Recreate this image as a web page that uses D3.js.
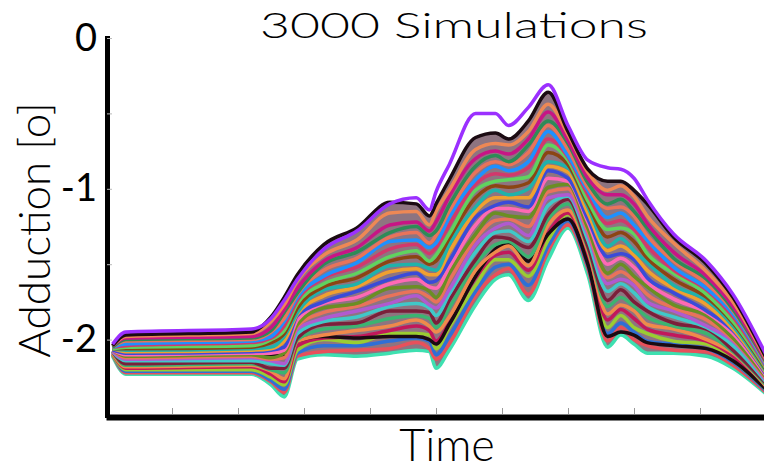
<!DOCTYPE html>
<html>
<head>
<meta charset="utf-8">
<script src="https://cdnjs.cloudflare.com/ajax/libs/d3/7.8.5/d3.min.js"></script>
<style>
  body { margin: 0; background: #fff; }
</style>
</head>
<body>
<div id="chart"></div>
<script>
// time in % of cycle
const times = [1, 3, 22, 25, 27, 29, 33, 38, 43, 47, 49, 50, 52, 56, 59, 61, 64, 67, 70, 73, 76, 78, 80, 82, 86, 91, 95, 100];

// adduction (deg), representative simulations
const sim01 = [-2.03, -1.95, -1.93, -1.86, -1.74, -1.60, -1.40, -1.28, -1.10, -1.06, -1.14, -1.02, -0.84, -0.50, -0.50, -0.58, -0.46, -0.31, -0.58, -0.81, -0.86, -0.87, -0.93, -1.07, -1.30, -1.48, -1.70, -2.10];
const sim02 = [-2.04, -1.97, -1.95, -1.85, -1.72, -1.57, -1.37, -1.26, -1.09, -1.10, -1.18, -1.10, -0.94, -0.66, -0.63, -0.67, -0.55, -0.36, -0.62, -0.87, -0.95, -0.95, -1.01, -1.10, -1.32, -1.50, -1.72, -2.12];
const sim03 = [-2.04, -1.99, -1.98, -1.92, -1.80, -1.66, -1.48, -1.39, -1.24, -1.22, -1.28, -1.22, -1.05, -0.80, -0.75, -0.77, -0.67, -0.49, -0.68, -0.93, -1.04, -1.04, -1.10, -1.23, -1.42, -1.58, -1.78, -2.14];
const sim04 = [-2.05, -2.01, -2.00, -1.95, -1.86, -1.70, -1.54, -1.46, -1.32, -1.29, -1.36, -1.31, -1.15, -0.89, -0.82, -0.84, -0.76, -0.58, -0.74, -0.99, -1.13, -1.12, -1.18, -1.31, -1.48, -1.63, -1.81, -2.16];
const sim05 = [-2.05, -2.04, -2.02, -1.99, -1.91, -1.74, -1.59, -1.52, -1.40, -1.37, -1.43, -1.39, -1.24, -0.97, -0.90, -0.91, -0.86, -0.67, -0.79, -1.04, -1.23, -1.21, -1.27, -1.38, -1.54, -1.67, -1.85, -2.18];
const sim06 = [-2.06, -2.06, -2.05, -2.02, -1.96, -1.79, -1.65, -1.59, -1.48, -1.45, -1.50, -1.48, -1.33, -1.06, -0.98, -0.99, -0.96, -0.76, -0.84, -1.10, -1.32, -1.29, -1.35, -1.46, -1.60, -1.72, -1.89, -2.20];
const sim07 = [-2.06, -2.08, -2.07, -2.06, -2.01, -1.83, -1.71, -1.65, -1.55, -1.53, -1.57, -1.57, -1.42, -1.15, -1.06, -1.06, -1.06, -0.85, -0.89, -1.16, -1.41, -1.38, -1.44, -1.54, -1.66, -1.77, -1.93, -2.22];
const sim08 = [-2.07, -2.10, -2.09, -2.09, -2.07, -1.87, -1.76, -1.72, -1.63, -1.60, -1.65, -1.66, -1.52, -1.24, -1.13, -1.13, -1.15, -0.93, -0.95, -1.22, -1.50, -1.46, -1.52, -1.62, -1.73, -1.82, -1.96, -2.24];
const sim09 = [-2.07, -2.12, -2.11, -2.13, -2.12, -1.91, -1.82, -1.78, -1.71, -1.68, -1.72, -1.75, -1.61, -1.33, -1.21, -1.20, -1.25, -1.02, -1.00, -1.28, -1.59, -1.55, -1.61, -1.70, -1.79, -1.87, -2.00, -2.26];
const sim10 = [-2.08, -2.14, -2.14, -2.16, -2.17, -1.96, -1.88, -1.85, -1.78, -1.76, -1.79, -1.84, -1.70, -1.42, -1.29, -1.28, -1.35, -1.11, -1.05, -1.34, -1.68, -1.63, -1.69, -1.78, -1.85, -1.92, -2.04, -2.28];
const sim11 = [-2.08, -2.17, -2.16, -2.20, -2.22, -2.00, -1.93, -1.91, -1.86, -1.84, -1.86, -1.92, -1.79, -1.50, -1.37, -1.35, -1.45, -1.20, -1.10, -1.39, -1.78, -1.72, -1.78, -1.85, -1.91, -1.96, -2.08, -2.30];
const sim12 = [-2.09, -2.19, -2.18, -2.23, -2.28, -2.04, -1.99, -1.98, -1.94, -1.91, -1.94, -2.01, -1.89, -1.59, -1.44, -1.42, -1.54, -1.29, -1.16, -1.45, -1.87, -1.80, -1.86, -1.93, -1.97, -2.01, -2.11, -2.32];
const sim13 = [-2.10, -2.21, -2.21, -2.27, -2.33, -2.09, -2.04, -2.04, -2.01, -1.99, -2.01, -2.10, -1.98, -1.68, -1.52, -1.50, -1.64, -1.38, -1.21, -1.51, -1.96, -1.89, -1.95, -2.01, -2.03, -2.06, -2.15, -2.34];
const sim14 = [-2.11, -2.23, -2.23, -2.30, -2.38, -2.13, -2.10, -2.11, -2.09, -2.07, -2.08, -2.19, -2.07, -1.77, -1.60, -1.57, -1.74, -1.47, -1.26, -1.57, -2.05, -1.97, -2.03, -2.09, -2.09, -2.11, -2.19, -2.36];
const sim15 = [-2.04, -1.98, -1.96, -1.88, -1.77, -1.61, -1.44, -1.34, -1.16, -1.15, -1.24, -1.15, -1.01, -0.74, -0.70, -0.71, -0.62, -0.44, -0.64, -0.89, -1.01, -0.98, -1.05, -1.18, -1.36, -1.55, -1.75, -2.13];
const sim16 = [-2.05, -2.00, -1.99, -1.94, -1.82, -1.69, -1.50, -1.42, -1.29, -1.25, -1.31, -1.28, -1.11, -0.85, -0.78, -0.82, -0.71, -0.55, -0.70, -0.96, -1.10, -1.07, -1.15, -1.26, -1.46, -1.60, -1.80, -2.15];
const sim17 = [-2.05, -2.03, -2.01, -1.98, -1.88, -1.72, -1.58, -1.49, -1.35, -1.34, -1.39, -1.36, -1.19, -0.94, -0.85, -0.88, -0.82, -0.62, -0.78, -1.01, -1.19, -1.16, -1.24, -1.34, -1.52, -1.66, -1.83, -2.17];
const sim18 = [-2.06, -2.05, -2.04, -2.00, -1.94, -1.76, -1.63, -1.56, -1.45, -1.41, -1.48, -1.44, -1.30, -1.01, -0.95, -0.94, -0.92, -0.71, -0.81, -1.08, -1.27, -1.26, -1.30, -1.43, -1.56, -1.70, -1.88, -2.19];
const sim19 = [-2.06, -2.07, -2.06, -2.05, -1.98, -1.82, -1.67, -1.63, -1.51, -1.50, -1.53, -1.54, -1.37, -1.12, -1.01, -1.04, -1.00, -0.82, -0.86, -1.12, -1.38, -1.33, -1.41, -1.49, -1.64, -1.74, -1.91, -2.21];
const sim20 = [-2.07, -2.09, -2.08, -2.07, -2.05, -1.84, -1.75, -1.68, -1.60, -1.56, -1.62, -1.61, -1.48, -1.19, -1.11, -1.09, -1.12, -0.88, -0.93, -1.20, -1.45, -1.43, -1.47, -1.59, -1.69, -1.81, -1.94, -2.23];
const sim21 = [-2.07, -2.11, -2.10, -2.12, -2.09, -1.90, -1.79, -1.76, -1.66, -1.65, -1.68, -1.72, -1.56, -1.30, -1.16, -1.18, -1.19, -0.99, -0.97, -1.26, -1.56, -1.50, -1.58, -1.65, -1.77, -1.84, -1.99, -2.25];
const sim22 = [-2.08, -2.13, -2.12, -2.14, -2.16, -1.93, -1.86, -1.81, -1.76, -1.71, -1.77, -1.79, -1.67, -1.37, -1.26, -1.23, -1.31, -1.06, -1.04, -1.30, -1.63, -1.60, -1.64, -1.75, -1.81, -1.91, -2.01, -2.27];
const sim23 = [-2.08, -2.16, -2.15, -2.19, -2.19, -1.99, -1.90, -1.89, -1.81, -1.81, -1.82, -1.89, -1.74, -1.47, -1.32, -1.33, -1.39, -1.17, -1.07, -1.38, -1.74, -1.67, -1.75, -1.81, -1.89, -1.93, -2.07, -2.29];
const sim24 = [-2.09, -2.18, -2.17, -2.21, -2.26, -2.01, -1.97, -1.94, -1.91, -1.87, -1.91, -1.95, -1.85, -1.54, -1.42, -1.38, -1.51, -1.24, -1.14, -1.41, -1.83, -1.77, -1.81, -1.90, -1.93, -2.00, -2.09, -2.31];
const sim25 = [-2.10, -2.20, -2.20, -2.25, -2.30, -2.07, -2.00, -2.02, -1.96, -1.96, -1.97, -2.06, -1.92, -1.64, -1.47, -1.47, -1.58, -1.34, -1.17, -1.49, -1.92, -1.84, -1.92, -1.96, -2.01, -2.03, -2.14, -2.33];
const sim26 = [-2.10, -2.22, -2.22, -2.28, -2.35, -2.11, -2.08, -2.07, -2.06, -2.02, -2.06, -2.13, -2.03, -1.71, -1.57, -1.53, -1.70, -1.41, -1.24, -1.53, -2.01, -1.92, -2.00, -2.04, -2.07, -2.08, -2.17, -2.35];
const sim27 = [-2.07, -2.10, -2.09, -2.10, -2.11, -2.01, -1.98, -1.99, -1.98, -1.98, -2.00, -2.03, -1.90, -1.58, -1.40, -1.36, -1.48, -1.30, -1.20, -1.50, -1.98, -1.95, -1.97, -2.02, -2.04, -2.06, -2.14, -2.33];

const simulations = [sim14, sim26, sim13, sim25, sim12, sim27, sim24, sim11, sim23, sim10, sim22, sim09, sim21, sim08,
                     sim20, sim07, sim19, sim06, sim18, sim05, sim17, sim04, sim16, sim03, sim15, sim02, sim01];
const lineColors = ["#3ee0b0", "#e8505b", "#2f6fd6", "#9acd32", "#c2185b", "#1b0b12", "#f08a4b", "#3cb371",
                    "#7b1f3a", "#40c8c8", "#b05ad0", "#e9735a", "#6b8e23", "#ff69b4", "#3a4bd8", "#f0a030",
                    "#20b2aa", "#8b4513", "#5fd35f", "#d2386c", "#1e90ff", "#e9735a", "#2e8b57", "#c71585",
                    "#ee8855", "#1b0b12", "#9b30ff"];

const yTicks = [0, -0.5, -1, -1.5, -2, -2.5];
const xTicks = [10, 20, 30, 40, 50, 60, 70, 80, 90];

const width = 764;
const height = 470;

const svg = d3.select("#chart")
  .append("svg")
  .attr("width", width)
  .attr("height", height);

const x = d3.scaleLinear().domain([0, 100]).range([106, 766]);
const y = d3.scaleLinear().domain([-2.5, 0]).range([415, 38]);

// band covered by all simulations
const band = d3.area()
  .x((d, i) => x(times[i]))
  .y0((d, i) => y(sim14[i]))
  .y1((d, i) => y(sim02[i]))
  .curve(d3.curveMonotoneX);

svg.append("path")
  .datum(sim02)
  .attr("fill", "#8e7480")
  .attr("d", band);

const line = d3.line()
  .x((d, i) => x(times[i]))
  .y(d => y(d))
  .curve(d3.curveMonotoneX);

simulations.forEach((sim, i) => {
  svg.append("path")
    .datum(sim)
    .attr("fill", "none")
    .attr("stroke", lineColors[i])
    .attr("stroke-width", 3.5)
    .attr("stroke-linejoin", "round")
    .attr("d", line);
});

// axes
const yAxis = d3.axisLeft(y)
  .tickValues(yTicks)
  .tickSizeInner(-5)
  .tickSizeOuter(0)
  .tickPadding(10)
  .tickFormat(d => Number.isInteger(d) ? String(d) : "");

const gy = svg.append("g")
  .attr("transform", "translate(107,0)")
  .call(yAxis);
gy.select(".domain").attr("stroke", "#000").attr("stroke-width", 5).attr("stroke-linecap", "square");
gy.selectAll(".tick line").attr("stroke", "#bbb");
gy.selectAll(".tick text")
  .attr("fill", "#000")
  .style("font-family", "Lato, 'Open Sans', sans-serif")
  .style("font-size", "38px");

const xAxis = d3.axisBottom(x)
  .tickValues(xTicks)
  .tickSizeInner(-6)
  .tickSizeOuter(0)
  .tickFormat("");

const gx = svg.append("g")
  .attr("transform", "translate(0,417)")
  .call(xAxis);
gx.select(".domain").attr("stroke", "#000").attr("stroke-width", 6);
gx.selectAll(".tick line").attr("stroke", "#999").attr("transform", "translate(0,-3)");

// titles
const title = svg.append("text")
  .attr("text-anchor", "middle")
  .style("font-family", "Lato, sans-serif")
  .style("font-weight", 300)
  .style("font-size", "35px")
  .text("3000 Simulations");
// widen the light face to the width of the original title
const titleW = title.node().getComputedTextLength();
title.attr("transform", `translate(454,38) scale(${388 / titleW},1)`);

svg.append("text")
  .attr("x", 447)
  .attr("y", 461)
  .attr("text-anchor", "middle")
  .style("font-family", "Lato, sans-serif")
  .style("font-weight", 300)
  .style("font-size", "45px")
  .text("Time");

svg.append("text")
  .attr("transform", "translate(50,230) rotate(-90)")
  .attr("text-anchor", "middle")
  .style("font-family", "Lato, sans-serif")
  .style("font-weight", 300)
  .style("font-size", "44px")
  .text("Adduction [o]");
</script>
</body>
</html>
